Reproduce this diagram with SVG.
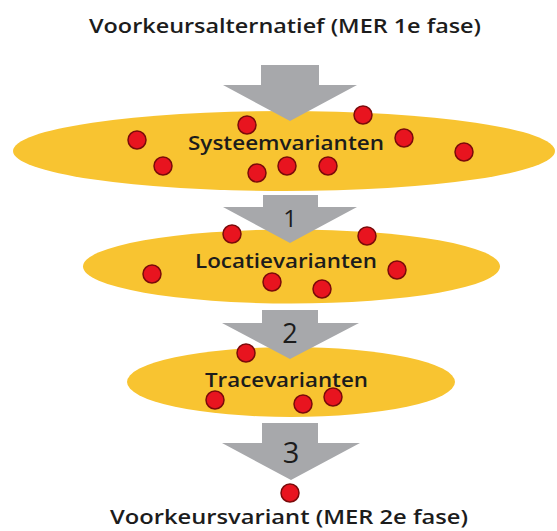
<svg xmlns="http://www.w3.org/2000/svg" width="557" height="531" viewBox="0 0 557 531">
<style>
.lbl{font-family:"Open Sans","DejaVu Sans",sans-serif;font-weight:600;fill:#1c1c1c;text-anchor:middle}
.ell{fill:#f8c431}
.dot{fill:#e8141f;stroke:#7a0a0a;stroke-width:1.5}
.arr{fill:#a7a8ab}
.num{font-family:"Open Sans","DejaVu Sans",sans-serif;font-weight:400;fill:#1c1c1c;text-anchor:middle}
</style>
<rect width="557" height="531" fill="#ffffff"/>
<g id="title-top"><text class="lbl" x="285" y="33" font-size="20.5" textLength="392" lengthAdjust="spacingAndGlyphs">Voorkeursalternatief (MER 1e fase)</text></g>
<g id="node-systeem">
<ellipse class="ell" cx="284" cy="151" rx="271" ry="40"/>
<text class="lbl" x="286" y="150" font-size="19.5" textLength="196" lengthAdjust="spacingAndGlyphs">Systeemvarianten</text>
</g>
<g id="node-locatie">
<ellipse class="ell" cx="291.5" cy="266.5" rx="208.5" ry="37"/>
<text class="lbl" x="286" y="268" font-size="19" textLength="182" lengthAdjust="spacingAndGlyphs">Locatievarianten</text>
</g>
<g id="node-trace">
<ellipse class="ell" cx="291" cy="382" rx="164" ry="35"/>
<text class="lbl" x="286.5" y="387" font-size="19" textLength="163" lengthAdjust="spacingAndGlyphs">Tracevarianten</text>
</g>
<g id="connectors">
<polygon class="arr" points="261,65 319,65 319,85 357,85 290,121 223,85 261,85"/>
<polygon class="arr" points="263,195 318,195 318,207 357,207 290,243 223,207 263,207"/>
<polygon class="arr" points="262,310 318,310 318,323 359,323 290,359 222,323 262,323"/>
<polygon class="arr" points="262,423 318,423 318,443 360,443 291,480 222,443 262,443"/>
<text class="num" x="290" y="227" font-size="24">1</text>
<text class="num" x="290" y="343" font-size="27">2</text>
<text class="num" x="291" y="463" font-size="29">3</text>
</g>
<g id="dots">
<circle class="dot" cx="137" cy="140" r="9"/>
<circle class="dot" cx="163" cy="166" r="9"/>
<circle class="dot" cx="247" cy="125" r="9"/>
<circle class="dot" cx="257" cy="173" r="9"/>
<circle class="dot" cx="287" cy="166" r="9"/>
<circle class="dot" cx="328" cy="166" r="9"/>
<circle class="dot" cx="363" cy="115" r="9"/>
<circle class="dot" cx="404" cy="138" r="9"/>
<circle class="dot" cx="464" cy="152" r="9"/>
<circle class="dot" cx="232" cy="234" r="9"/>
<circle class="dot" cx="367" cy="236" r="9"/>
<circle class="dot" cx="152" cy="274" r="9"/>
<circle class="dot" cx="397" cy="270" r="9"/>
<circle class="dot" cx="272" cy="282" r="9"/>
<circle class="dot" cx="322" cy="289" r="9"/>
<circle class="dot" cx="246" cy="353" r="9"/>
<circle class="dot" cx="215" cy="400" r="9"/>
<circle class="dot" cx="303" cy="404" r="9"/>
<circle class="dot" cx="333" cy="397" r="9"/>
<circle class="dot" cx="290" cy="493" r="9"/>
</g>
<g id="title-bottom"><text class="lbl" x="289" y="524" font-size="19.5" textLength="358" lengthAdjust="spacingAndGlyphs">Voorkeursvariant (MER 2e fase)</text></g>
</svg>
